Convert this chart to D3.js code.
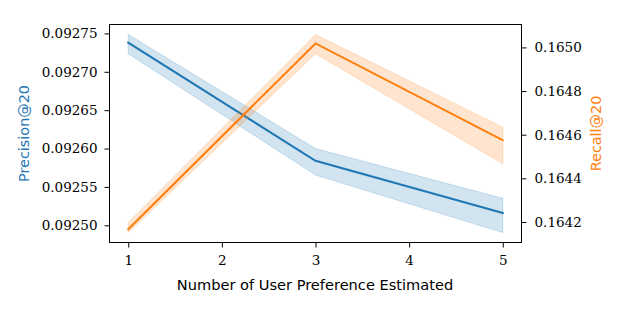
<!DOCTYPE html>
<html><head><meta charset="utf-8">
<script src="https://cdn.jsdelivr.net/npm/d3@7"></script>
<style>body{margin:0;background:#fff}svg{display:block}</style>
</head><body>
<svg id="c" width="623" height="312"></svg>
<script>
const xValues = [1, 3, 5];
const precisionMean = [0.092738, 0.092584, 0.092516];
const precisionLow  = [0.0927236, 0.0925655, 0.0924905];
const precisionHigh = [0.0927487, 0.0926000, 0.0925352];
const recallMean = [0.1641665, 0.1650183, 0.1645747];
const recallLow  = [0.1641514, 0.1649711, 0.1644665];
const recallHigh = [0.1641972, 0.1650596, 0.1646344];
const xTicks = [1, 2, 3, 4, 5];
const leftTicks = [0.09250, 0.09255, 0.09260, 0.09265, 0.09270, 0.09275];
const rightTicks = [0.1642, 0.1644, 0.1646, 0.1648, 0.1650];
const xLabel = "Number of User Preference Estimated";
const leftLabel = "Precision@20";
const rightLabel = "Recall@20";

const blue = "#1f77b4", orange = "#ff7f0e";
const m = {l:109.5, r:521.5, t:24.5, b:242.5};
const svg = d3.select("#c");

function padded(lo, hi){ const d = hi - lo; return [lo - 0.05*d, hi + 0.05*d]; }
const xs = d3.scaleLinear().domain(padded(d3.min(xValues), d3.max(xValues))).range([m.l, m.r]);
const yl = d3.scaleLinear().domain(padded(d3.min(precisionLow), d3.max(precisionHigh))).range([m.b, m.t]);
const yr = d3.scaleLinear().domain(padded(d3.min(recallLow), d3.max(recallHigh))).range([m.b, m.t]);

function series(mean, lo, hi, y, color){
  const idx = d3.range(xValues.length);
  const area = d3.area().x(i => xs(xValues[i])).y0(i => y(lo[i])).y1(i => y(hi[i]));
  svg.append("path").attr("d", area(idx)).attr("fill", color).attr("fill-opacity", 0.2)
    .attr("stroke", color).attr("stroke-opacity", 0.2).attr("stroke-width", 1);
  const line = d3.line().x(i => xs(xValues[i])).y(i => y(mean[i]));
  svg.append("path").attr("d", line(idx)).attr("fill", "none").attr("stroke", color)
    .attr("stroke-width", 2).attr("stroke-linecap", "square");
}
series(precisionMean, precisionLow, precisionHigh, yl, blue);
series(recallMean, recallLow, recallHigh, yr, orange);

const tickFont = "'DejaVu Serif', serif";
const gx = svg.append("g").attr("transform", `translate(0,${m.b})`)
  .call(d3.axisBottom(xs).tickValues(xTicks).tickFormat(d3.format("d")).tickSize(5).tickPadding(8));
const gl = svg.append("g").attr("transform", `translate(${m.l},0)`)
  .call(d3.axisLeft(yl).tickValues(leftTicks).tickFormat(d3.format(".5f")).tickSize(5).tickPadding(7));
const gr = svg.append("g").attr("transform", `translate(${m.r},0)`)
  .call(d3.axisRight(yr).tickValues(rightTicks).tickFormat(d3.format(".4f")).tickSize(5).tickPadding(8));
[gx, gl, gr].forEach(g => {
  g.select(".domain").remove();
  g.selectAll("line").attr("stroke", "#000").attr("stroke-width", 1);
  g.selectAll("text").attr("font-family", tickFont).attr("font-size", 13.5).attr("fill", "#000");
});
svg.append("rect").attr("x", m.l).attr("y", m.t).attr("width", m.r - m.l).attr("height", m.b - m.t)
  .attr("fill", "none").attr("stroke", "#000").attr("stroke-width", 1);

const labFont = "'DejaVu Sans', sans-serif";
svg.append("text").attr("x", (m.l + m.r)/2 - 0.5).attr("y", 290).attr("text-anchor", "middle")
  .attr("font-family", labFont).attr("font-size", 14.6).text(xLabel);
svg.append("text").attr("transform", `translate(29,${(m.t+m.b)/2}) rotate(-90)`).attr("text-anchor", "middle")
  .attr("font-family", labFont).attr("font-size", 14.4).attr("fill", blue).text(leftLabel);
svg.append("text").attr("transform", `translate(601,${(m.t+m.b)/2}) rotate(-90)`).attr("text-anchor", "middle")
  .attr("font-family", labFont).attr("font-size", 14.4).attr("fill", orange).text(rightLabel);
</script>
</body></html>
